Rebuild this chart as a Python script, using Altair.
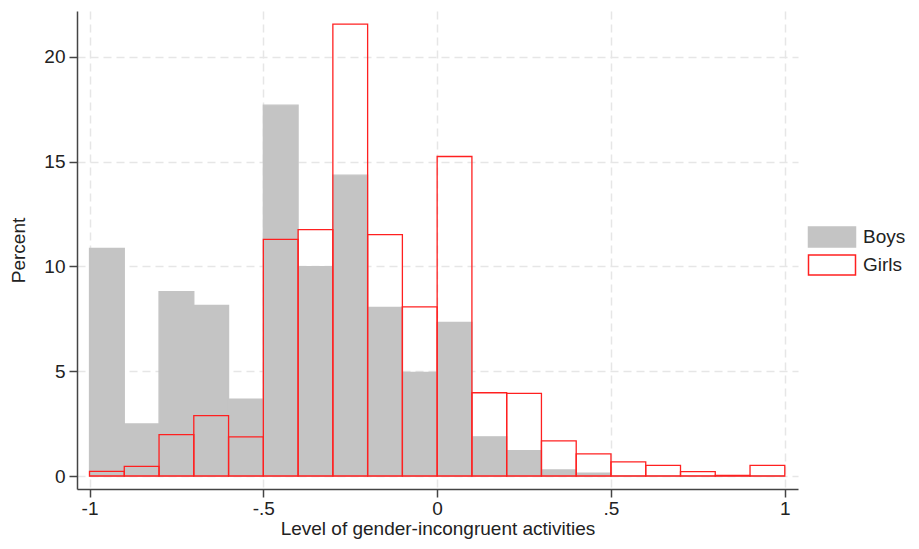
import altair as alt
import pandas as pd

bin_start = [-1.0, -0.9, -0.8, -0.7, -0.6, -0.5, -0.4, -0.3, -0.2, -0.1,
             0.0, 0.1, 0.2, 0.3, 0.4, 0.5, 0.6, 0.7, 0.8, 0.9]
boys = [10.86, 2.48, 8.79, 8.14, 3.66, 17.69, 9.98, 14.35, 8.04, 4.94,
        7.33, 1.87, 1.21, 0.29, 0.14, 0.0, 0.0, 0.0, 0.0, 0.0]
girls = [0.22, 0.46, 1.97, 2.88, 1.87, 11.29, 11.75, 21.55, 11.51, 8.07,
         15.24, 3.97, 3.94, 1.68, 1.06, 0.67, 0.51, 0.21, 0.03, 0.51]
groups = ["Boys", "Girls"]

rows = []
for g, vals in zip(groups, [boys, girls]):
    for s, v in zip(bin_start, vals):
        rows.append({"group": g, "x0": s, "x1": round(s + 0.1, 2), "pct": v})
df = pd.DataFrame(rows)

FONT = "Liberation Sans"
GRID = dict(grid=True, gridColor="#e6e6e6", gridDash=[8, 5], gridWidth=1.5)

x_labels = "datum.value == -0.5 ? '-.5' : datum.value == 0.5 ? '.5' : datum.value == 0 ? '0' : datum.value == 1 ? '1' : '-1'"

LEG = dict(title=None, orient="none", legendX=744, legendY=215,
           symbolType="M-2.35,-1H2.35V1H-2.35Z", symbolSize=400,
           symbolStrokeWidth=1.5, labelFontSize=19, labelFont=FONT,
           labelColor="#222", labelOffset=20, rowPadding=2, padding=0)

chart = alt.Chart(df).mark_bar(strokeWidth=1.3).encode(
    x=alt.X("x0:Q",
            scale=alt.Scale(domain=[-1.036, 1.038], nice=False, zero=False),
            axis=alt.Axis(values=[-1, -0.5, 0, 0.5, 1], labelExpr=x_labels,
                          title="Level of gender-incongruent activities",
                          titlePadding=1, labelPadding=2, **GRID)),
    x2="x1:Q",
    y=alt.Y("pct:Q",
            scale=alt.Scale(domain=[-0.62, 22.18], nice=False, zero=False),
            axis=alt.Axis(values=[0, 5, 10, 15, 20], title="Percent",
                          titlePadding=15, labelPadding=4, **GRID)),
    y2=alt.datum(0),
    fill=alt.Fill("group:N", scale=alt.Scale(domain=groups, range=["#c4c4c4", "rgba(255,255,255,0)"]),
                  legend=alt.Legend(**LEG)),
    stroke=alt.Stroke("group:N", scale=alt.Scale(domain=groups, range=["#c4c4c4", "#ff2020"]),
                      legend=alt.Legend(**LEG)),
).properties(
    width=721, height=478,
    autosize=alt.AutoSizeParams(type="none"),
    padding={"left": 69, "top": 3, "right": 113, "bottom": 52},
).configure_view(stroke=None).configure_axis(
    labelFont=FONT, titleFont=FONT, labelFontSize=19, titleFontSize=19,
    labelColor="#222", titleColor="#222", titleFontWeight="normal",
    domainColor="#444", domainWidth=1.5, tickColor="#444", tickWidth=1.5, tickSize=8,
)

chart.save("out.html", embed_options={"renderer": "svg", "actions": False})
